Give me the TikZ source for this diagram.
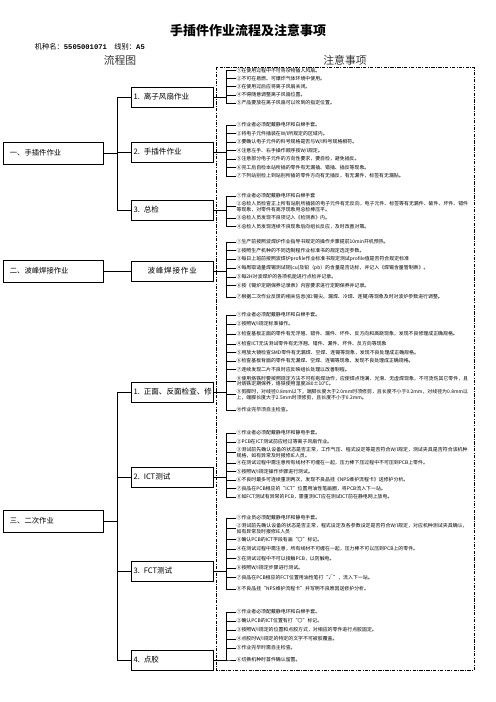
\documentclass[tikz,border=0pt]{standalone}
\usepackage{fontspec}
\setmainfont{Noto Sans CJK SC}
\newfontfamily\codefont{Liberation Mono}
\XeTeXlinebreaklocale "zh"
\XeTeXlinebreakskip=0pt plus 1pt
\usetikzlibrary{positioning,calc}

\begin{document}
\begin{tikzpicture}[
  x=1.2pt, y=-1.2pt,
  mainbox/.style={draw, line width=0.5pt, anchor=west, minimum width=120pt, minimum height=27pt,
                  inner xsep=8pt, text width=104pt, align=left, font=\fontsize{8.8}{10}\selectfont},
  subbox/.style={draw, line width=0.5pt, anchor=west, minimum width=98.4pt, minimum height=24pt,
                 inner xsep=3pt, text width=92.4pt, align=left, font=\fontsize{9.1}{10}\selectfont},
  note/.style={anchor=west, inner sep=0.5pt, text width=278pt, align=left,
               font=\fontsize{5.9}{6.6}\selectfont},
  link/.style={line width=0.5pt},
  head/.style={font=\fontsize{13}{15}\selectfont, text=black!80}
]
\path[use as bounding box] (0,0) rectangle (496,702);
% ----- header -----
\node[font=\bfseries\fontsize{15.6}{18}\selectfont] (title) at (248,31) {手插件作业流程及注意事项};
\node[anchor=west, font=\fontsize{8.7}{9}\selectfont] (model) at (32,47)
  {机种名：{\codefont\bfseries\fontsize{8.6}{9}\selectfont 5505001071}\hspace{9pt}线别：{\codefont\bfseries\fontsize{8.6}{9}\selectfont A5}};
\node[head] (flowhead) at (120,60) {流程图};
\node[head] (notehead) at (345,60) {注意事项};
% ----- notes frame -----
\draw[line width=0.8pt, dash pattern=on 4pt off 1.6pt on 1pt off 1.6pt] (216,67) rectangle (474,670);
\coordinate (k) at (226,0);
\coordinate (m) at (117,0);

% ----- stage boxes -----
\node[mainbox] (stA) at (3,153) {一、手插件作业};
\node[mainbox] (stB) at (3,271) {二、波峰焊接作业};
\node[mainbox] (stC) at (3,521) {三、二次作业};
\node[subbox] (fan) at (131,97) {1. 离子风扇作业};
\node[subbox] (hand) at (131,152) {2. 手插件作业};
\node[subbox] (check) at (131,210) {3. 总检};
\node[subbox, align=center] (wave) at (131,271) {波峰焊接作业};
\node[subbox] (repair) at (131,392) {\mbox{1. 正面、反面检查、修}};
\node[subbox] (ict) at (131,477) {2. ICT测试};
\node[subbox] (fct) at (131,571) {3. FCT测试};
\node[subbox] (glue) at (131,660) {4. 点胶};
\foreach \s in {fan,hand,check}{\draw[link] (stA.east) -- (stA.east -| m) |- (\s.west);}
\foreach \s in {repair,ict,fct,glue}{\draw[link] (stC.east) -- (stC.east -| m) |- (\s.west);}
\draw[link] (stB) -- (wave);

% ----- 1. 离子风扇作业 -----
\node[note] (fa1) at (236,70.5) {①在使用过程中不可将杂物插入风扇。};
\node[note] (fa2) at (236,78.6) {②不可在易燃、可爆炸气体环境中使用。};
\node[note] (fa3) at (236,86.7) {③在使用过后应将离子风扇关闭。};
\node[note] (fa4) at (236,94.8) {④不得随意调整离子风扇位置。};
\node[note] (fa5) at (236,103) {⑤产品要放在离子风扇可以吹到的指定位置。};
\foreach \n in {fa1,fa2,fa3,fa4,fa5}{\draw[link] (fan.east) -- (fan.east -| k) |- (\n.west);}

% ----- 2. 手插件作业 -----
\node[note] (ha1) at (236,125) {①作业者必须配戴静电环和白棉手套。};
\node[note] (ha2) at (236,133.5) {②将电子元件插装在W/I所规定的区域内。};
\node[note] (ha3) at (236,142) {③要确认电子元件的料号规格是否与W/I料号规格相符。};
\node[note] (ha4) at (236,150.5) {④注意左手、右手操作顺序按W/I规定。};
\node[note] (ha5) at (236,159) {⑤注意部分电子元件的方向性要求，要自检，避免插反。};
\node[note] (ha6) at (236,167.5) {⑥完工后自检本站所插的零件有无漏插、错插、插反等现象。};
\node[note] (ha7) at (236,176) {⑦下列站别检上到站别所插的零件方向有无插反，有无漏件，标签有无漏贴。};
\foreach \n in {ha1,ha2,ha3,ha4,ha5,ha6,ha7}{\draw[link] (hand.east) -- (hand.east -| k) |- (\n.west);}

% ----- 3. 总检 -----
\node[note] (ck1) at (236,196) {①作业者必须配戴静电环和白棉手套};
\node[note] (ck2) at (236,206.5) {②总检人员检查正上所有站别所插装的电子元件有无反向，电子元件、标签等有无漏件、破件、坏件、错件等现象，对零件有高浮现象用总检棒压平。};
\node[note] (ck3) at (236,218) {③总检人员发现不良项记入《检测表》内。};
\node[note] (ck4) at (236,226.5) {④总检人员发现连续不良现象后向组长反应，及时改善对策。};
\foreach \n in {ck1,ck2,ck3,ck4}{\draw[link] (check.east) -- (check.east -| k) |- (\n.west);}

% ----- 波峰焊接作业 -----
\node[note] (wv1) at (236,242) {①生产前按照波焊炉作业指导书规定的操作步骤提前10min开机预热。};
\node[note] (wv2) at (236,250.7) {②按照生产机种的不同选制程作业标准书的规定选定参数。};
\node[note] (wv3) at (236,259.4) {③每日上班前按照波焊炉profile作业标准书规定测试profile值是否符合规定标准};
\node[note] (wv4) at (236,268.1) {④每周取适量焊锡测试铜(cu)及铅（pb）的含量是否达标，并记入《焊锡含量管制表》。};
\node[note] (wv5) at (236,276.8) {⑤每2H对波焊炉的各项机能进行点检并记录。};
\node[note] (wv6) at (236,285.5) {⑥按《锡炉定期保养记录表》内容要求进行定期保养并记录。};
\node[note] (wv7) at (236,297) {⑦根据二次作业反馈的相关信息(如:锡尖、漏焊、冷焊、连锡)等现象及时对波炉参数进行调整。};
\foreach \n in {wv1,wv2,wv3,wv4,wv5,wv6,wv7}{\draw[link] (wave.east) -- (wave.east -| k) |- (\n.west);}

% ----- 1. 正面、反面检查、修 -----
\node[note] (rp1) at (236,315) {①作业者必须配戴静电环和白棉手套。};
\node[note] (rp2) at (236,324) {②按照W/I规定标准操作。};
\node[note] (rp3) at (236,334) {③检查基板正面的零件有无浮翘、错件、漏件、坏件、反方向和高跷现象，发现不良修理成正确规格。};
\node[note] (rp4) at (236,344) {④检查ICT无法测试零件有无浮翘、错件、漏件、坏件、反方向等现象};
\node[note] (rp5) at (236,352.5) {⑤用放大镜检查SMD零件有无漏焊、空焊、连锡等现象，发现不良处理成正确规格。};
\node[note] (rp6) at (236,361) {⑥检查基板背面的零件有无漏焊、空焊、连锡等现象，发现不良处理成正确规格。};
\node[note] (rp7) at (236,369.5) {⑦连续发现二片不良时应反映组长处理以改善制程。};
\node[note] (rp8) at (236,381) {⑧使用烙铁时要按照规定方法不可有拖焊动作，应使焊点饱满、光滑、无虚焊现象，不可烫伤其它零件，且对烙铁定期保养，烙铁使用温度380±10℃。};
\node[note] (rp9) at (236,394.5) {⑨剪脚时，对线径0.8mm以下，端脚长度大于2.0mm时须修剪，且长度不小于0.2mm，对线径为0.8mm以上，端脚长度大于2.5mm时须修剪，且长度不小于0.2mm。};
\node[note] (rp10) at (236,410) {⑩作业完毕须自主检查。};
\foreach \n in {rp1,rp2,rp3,rp4,rp5,rp6,rp7,rp8,rp9,rp10}{\draw[link] (repair.east) -- (repair.east -| k) |- (\n.west);}

% ----- 2. ICT测试 -----
\node[note] (ic1) at (236,433) {①作业者必须配戴静电环和静电手套。};
\node[note] (ic2) at (236,442) {②PCB在ICT测试前应经过等离子风扇作业。};
\node[note] (ic3) at (236,452.5) {③测试前先确认设备的状态是否正常，工作气压、程式设定等是否符合W/I规定，测试夹具是否符合该机种规格，如有异常及时报修IE人员。};
\node[note] (ic4) at (236,463) {④在测试过程中需注意所有线材不可缠在一起，压力棒下压过程中不可压到PCB上零件。};
\node[note] (ic5) at (236,471.5) {⑤按照W/I规定操作步骤进行测试。};
\node[note] (ic6) at (236,480) {⑥不良时最多可连续重测两次，发现不良品挂《NPS维护流程卡》送修护分析。};
\node[note] (ic7) at (236,488.5) {⑦良品在PCB相应的“ICT”位置用油性笔画圈，将PCB流入下一站。};
\node[note] (ic8) at (236,497) {⑧如FCT测试有异常的PCB，需重测ICT应在测试ICT前在静电网上放电。};
\foreach \n in {ic1,ic2,ic3,ic4,ic5,ic6,ic7,ic8}{\draw[link] (ict.east) -- (ict.east -| k) |- (\n.west);}

% ----- 3. FCT测试 -----
\node[note] (fc1) at (236,518) {①作业员必须配戴静电环和静电手套。};
\node[note] (fc2) at (236,528.5) {②测试前先确认设备的状态是否正常，程式设定及各参数设定是否符合W/I规定，对应机种测试夹具确认，如有异常及时报修IE人员};
\node[note] (fc3) at (236,539.5) {③确认PCB的ICT字段有画“〇”标记。};
\node[note] (fc4) at (236,549) {④在测试过程中需注意，所有线材不可缠在一起，压力棒不可以压到PCB上的零件。};
\node[note] (fc5) at (236,558.5) {⑤在测试过程中不可以接触PCB，以防触电。};
\node[note] (fc6) at (236,568) {⑥按照W/I规定步骤进行测试。};
\node[note] (fc7) at (236,577.5) {⑦良品在PCB相应的FCT位置用油性笔打“√”，流入下一站。};
\node[note] (fc8) at (236,589) {⑧不良品挂“NPS维护流程卡”并写明不良原因送修护分析。};
\foreach \n in {fc1,fc2,fc3,fc4,fc5,fc6,fc7,fc8}{\draw[link] (fct.east) -- (fct.east -| k) |- (\n.west);}

% ----- 4. 点胶 -----
\node[note] (gl1) at (236,612) {①作业者必须配戴静电环和白棉手套。};
\node[note] (gl2) at (236,621) {②确认PCB的ICT位置有打“〇”标记。};
\node[note] (gl3) at (236,630) {③按照W/I规定的位置和点胶方式，对相应的零件进行点胶固定。};
\node[note] (gl4) at (236,639) {④点胶时W/I规定的特定的文字不可被胶覆盖。};
\node[note] (gl5) at (236,648) {⑤作业完毕时需自主检查。};
\node[note] (gl6) at (236,660) {⑥切换机种时首件确认留置。};
\foreach \n in {gl1,gl2,gl3,gl4,gl5,gl6}{\draw[link] (glue.east) -- (glue.east -| k) |- (\n.west);}
\end{tikzpicture}
\end{document}
